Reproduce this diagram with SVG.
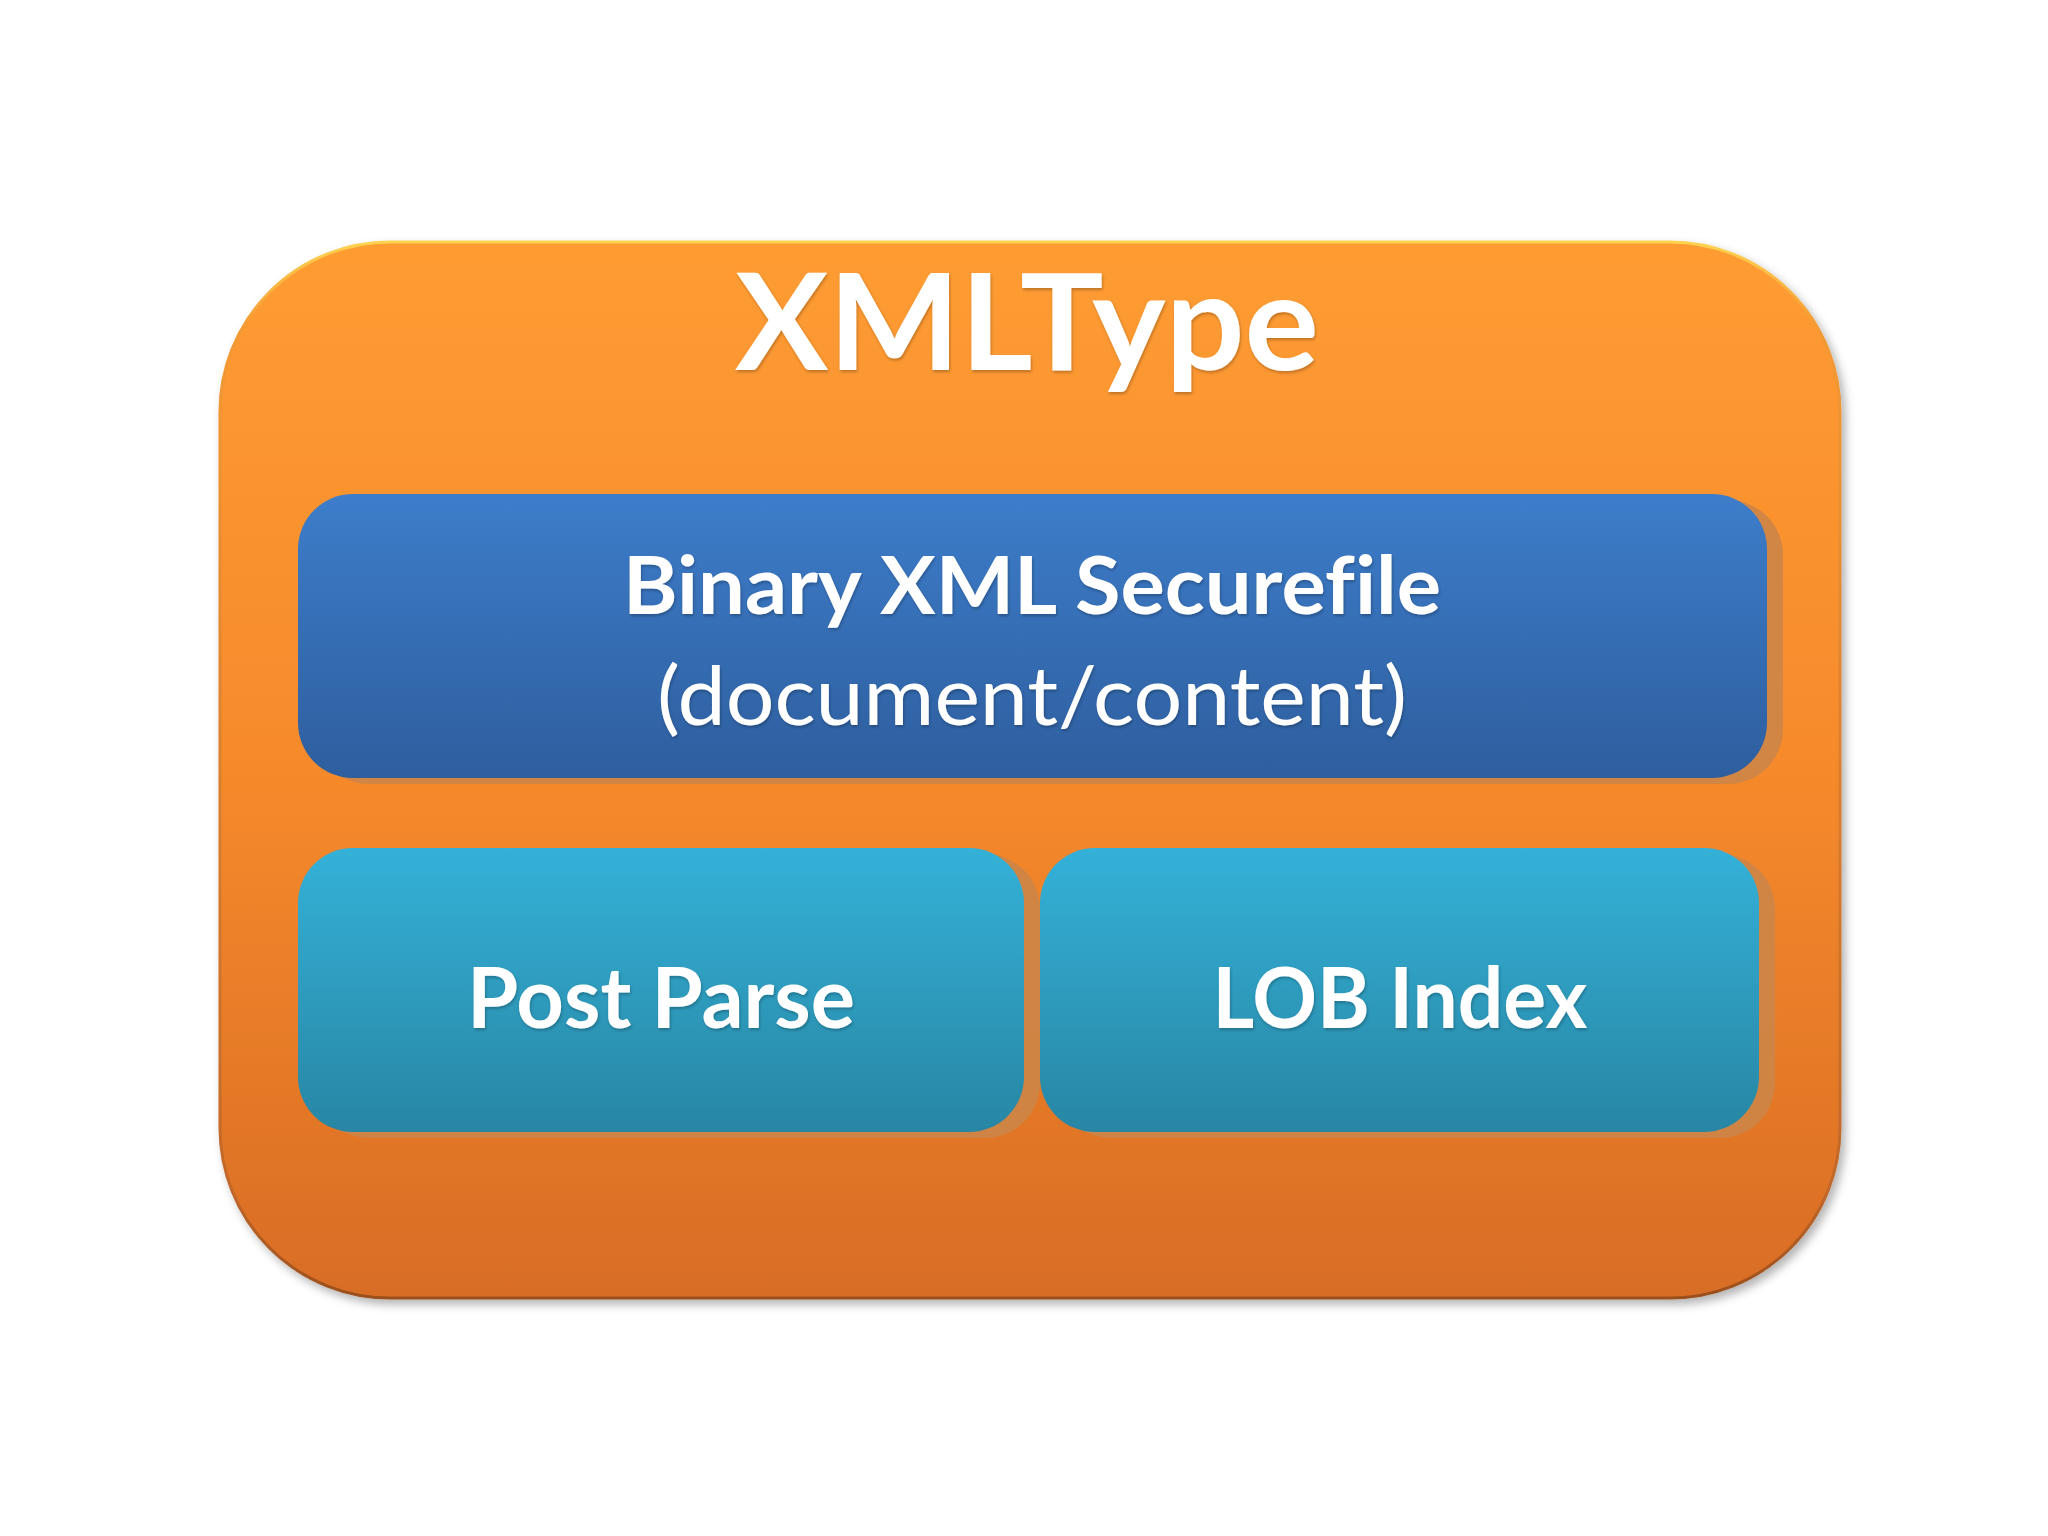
<svg xmlns="http://www.w3.org/2000/svg" width="2048" height="1536" viewBox="0 0 2048 1536">
  <defs>
    <linearGradient id="gOrange" x1="0" y1="0" x2="0" y2="1">
      <stop offset="0" stop-color="#fe9c32"/>
      <stop offset="0.5" stop-color="#f68a2c"/>
      <stop offset="1" stop-color="#d86d25"/>
    </linearGradient>
    <linearGradient id="gOrangeEdge" x1="0" y1="0" x2="0" y2="1">
      <stop offset="0" stop-color="#ffd250"/>
      <stop offset="0.08" stop-color="#f39a35"/>
      <stop offset="0.9" stop-color="#c0672a"/>
      <stop offset="1" stop-color="#9a4f1c"/>
    </linearGradient>
    <linearGradient id="gBlue" x1="0" y1="0" x2="0" y2="1">
      <stop offset="0" stop-color="#3d7dca"/>
      <stop offset="1" stop-color="#2e5e9e"/>
    </linearGradient>
    <linearGradient id="gTeal" x1="0" y1="0" x2="0" y2="1">
      <stop offset="0" stop-color="#34b1d8"/>
      <stop offset="1" stop-color="#2886a4"/>
    </linearGradient>
    <filter id="outerShadow" x="-5%" y="-5%" width="110%" height="112%">
      <feDropShadow dx="4" dy="5" stdDeviation="5" flood-color="#000" flood-opacity="0.3"/>
    </filter>
    <filter id="textShadow" x="-5%" y="-10%" width="110%" height="130%">
      <feDropShadow dx="1" dy="2" stdDeviation="1.5" flood-color="#000" flood-opacity="0.25"/>
    </filter>
  </defs>
  <style>
    .inner-shadow { fill: #cd8548; opacity: 0.9; }
    .label { fill: #ffffff; font-family: Lato, "Open Sans", "Liberation Sans", sans-serif; text-anchor: middle; font-variant-ligatures: none; }
    .bold { font-weight: bold; }
  </style>
  <rect width="2048" height="1536" fill="#ffffff"/>

  <g id="xmltype">
    <rect x="220" y="242" width="1620" height="1056" rx="170" ry="170" fill="url(#gOrange)" stroke="url(#gOrangeEdge)" stroke-width="3" filter="url(#outerShadow)"/>
    <text class="label bold" x="1027" y="370" font-size="134" textLength="584" lengthAdjust="spacingAndGlyphs" filter="url(#textShadow)">XMLType</text>
  </g>

  <g id="binary-xml">
    <rect class="inner-shadow" x="314" y="500" width="1469" height="284" rx="55" ry="55"/>
    <rect x="298" y="494" width="1469" height="284" rx="55" ry="55" fill="url(#gBlue)"/>
    <text class="label bold" x="1032" y="614" font-size="80" textLength="818" lengthAdjust="spacingAndGlyphs" filter="url(#textShadow)">Binary XML Securefile</text>
    <text class="label" x="1032" y="725" font-size="82" textLength="750" lengthAdjust="spacingAndGlyphs" filter="url(#textShadow)">(document/content)</text>
  </g>

  <g id="post-parse">
    <rect class="inner-shadow" x="314" y="854" width="726" height="284" rx="55" ry="55"/>
    <rect x="298" y="848" width="726" height="284" rx="55" ry="55" fill="url(#gTeal)"/>
    <text class="label bold" x="661" y="1028" font-size="84" textLength="388" lengthAdjust="spacingAndGlyphs" filter="url(#textShadow)">Post Parse</text>
  </g>

  <g id="lob-index">
    <rect class="inner-shadow" x="1056" y="854" width="719" height="284" rx="55" ry="55"/>
    <rect x="1040" y="848" width="719" height="284" rx="55" ry="55" fill="url(#gTeal)"/>
    <text class="label bold" x="1400" y="1028" font-size="84" textLength="375" lengthAdjust="spacingAndGlyphs" filter="url(#textShadow)">LOB Index</text>
  </g>

  <g id="connectors"></g>
</svg>
